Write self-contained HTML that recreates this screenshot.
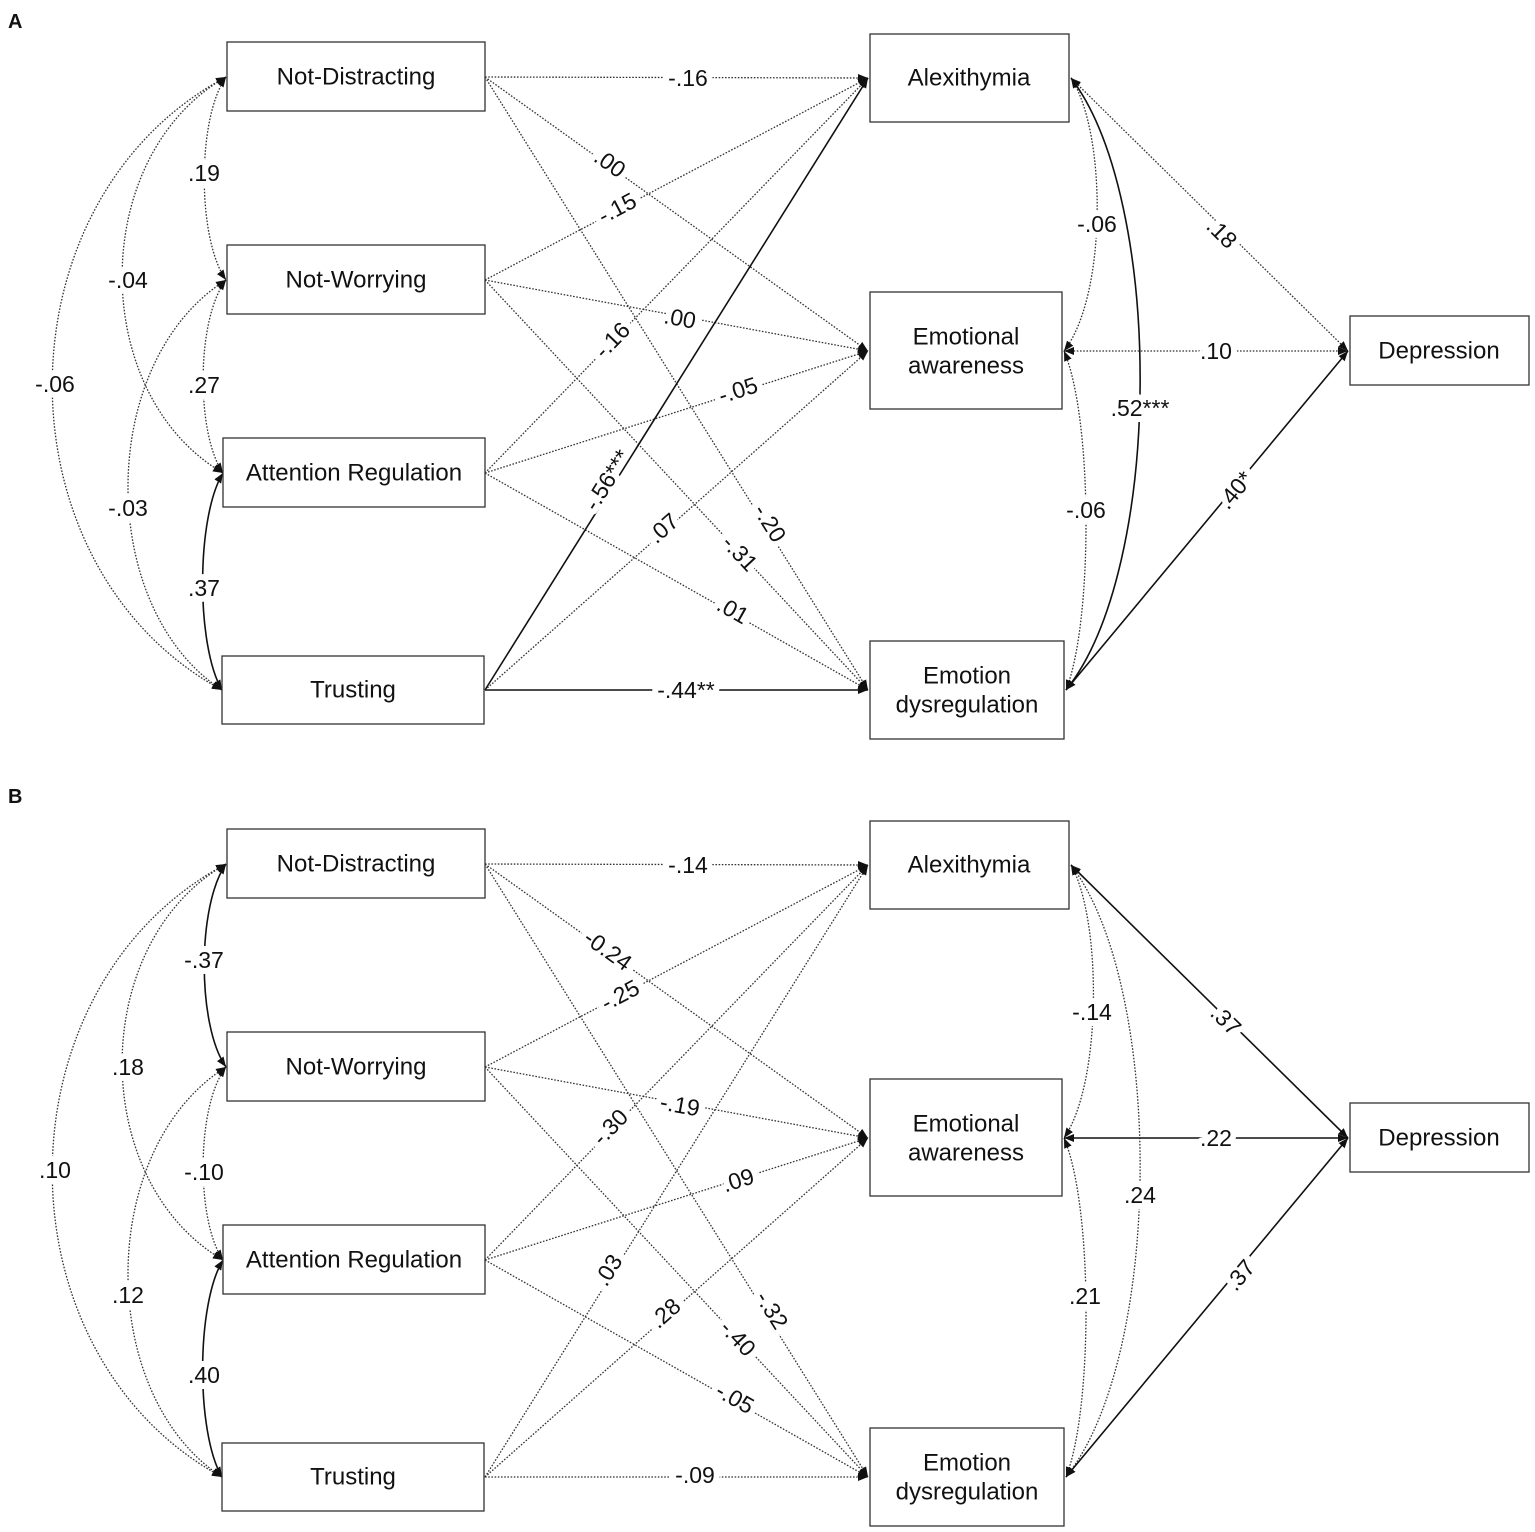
<!DOCTYPE html>
<html><head><meta charset="utf-8"><style>
html,body{margin:0;padding:0;background:#fff;}
svg{display:block;}
text{font-family:"Liberation Sans",Arial,sans-serif;fill:#111;}
.bx{fill:#fff;stroke:#333;stroke-width:1.3;}
.bt{font-size:24px;text-anchor:middle;dominant-baseline:central;}
.d{fill:none;stroke:#333;stroke-width:1.3;stroke-dasharray:1.6 1.6;}
.s{fill:none;stroke:#111;stroke-width:1.6;}
.l{font-size:23px;text-anchor:middle;dominant-baseline:central;paint-order:stroke;stroke:#fff;stroke-width:12px;stroke-linejoin:round;}
</style></head><body>
<svg width="1535" height="1532" viewBox="0 0 1535 1532" xmlns="http://www.w3.org/2000/svg">
<defs>
<marker id="ah" viewBox="0 0 10 10" refX="10" refY="5" markerWidth="10" markerHeight="10" orient="auto-start-reverse" markerUnits="userSpaceOnUse"><path d="M0,1L10,5L0,9z" fill="#111"/></marker>
</defs>
<text x="8" y="28" font-size="20" font-weight="bold">A</text>
<text x="8" y="803" font-size="20" font-weight="bold">B</text>

<!-- PANEL A -->
<g>
<path class="d" d="M485,77L868,78" marker-end="url(#ah)"/>
<path class="d" d="M485,77L868,351" marker-end="url(#ah)"/>
<path class="d" d="M485,77L868,690" marker-end="url(#ah)"/>
<path class="d" d="M485,280L868,78" marker-end="url(#ah)"/>
<path class="d" d="M485,280L868,351" marker-end="url(#ah)"/>
<path class="d" d="M485,280L868,690" marker-end="url(#ah)"/>
<path class="d" d="M485,473L868,78" marker-end="url(#ah)"/>
<path class="d" d="M485,473L868,351" marker-end="url(#ah)"/>
<path class="d" d="M485,473L868,690" marker-end="url(#ah)"/>
<path class="s" d="M485,690L868,78" marker-end="url(#ah)"/>
<path class="d" d="M485,690L868,351" marker-end="url(#ah)"/>
<path class="s" d="M485,690L868,690" marker-end="url(#ah)"/>
<path class="d" d="M226,77C197,118 197,239 226,280" marker-start="url(#ah)" marker-end="url(#ah)"/>
<path class="d" d="M226,77C88,156 88,394 223,473" marker-start="url(#ah)" marker-end="url(#ah)"/>
<path class="d" d="M226,77C-5,200 -5,567 222,690" marker-start="url(#ah)" marker-end="url(#ah)"/>
<path class="d" d="M226,280C196,319 196,434 223,473" marker-start="url(#ah)" marker-end="url(#ah)"/>
<path class="d" d="M226,280C96,362 96,608 222,690" marker-start="url(#ah)" marker-end="url(#ah)"/>
<path class="s" d="M223,473C196,517 196,646 222,690" marker-start="url(#ah)" marker-end="url(#ah)"/>
<path class="d" d="M1071,78C1107,133 1107,296 1064,351" marker-start="url(#ah)" marker-end="url(#ah)"/>
<path class="d" d="M1064,351C1093,419 1093,622 1066,690" marker-start="url(#ah)" marker-end="url(#ah)"/>
<path class="s" d="M1071,78C1164,200 1164,568 1066,690" marker-start="url(#ah)" marker-end="url(#ah)"/>
<path class="d" d="M1071,78L1348,351" marker-start="url(#ah)" marker-end="url(#ah)"/>
<path class="d" d="M1064,351L1348,351" marker-start="url(#ah)" marker-end="url(#ah)"/>
<path class="s" d="M1066,690L1348,351" marker-start="url(#ah)" marker-end="url(#ah)"/>
<rect class="bx" x="227" y="42" width="258" height="69"/><text class="bt" x="356" y="77">Not-Distracting</text>
<rect class="bx" x="227" y="245" width="258" height="69"/><text class="bt" x="356" y="280">Not-Worrying</text>
<rect class="bx" x="223" y="438" width="262" height="69"/><text class="bt" x="354" y="473">Attention Regulation</text>
<rect class="bx" x="222" y="656" width="262" height="68"/><text class="bt" x="353" y="690">Trusting</text>
<rect class="bx" x="870" y="34" width="199" height="88"/><text class="bt" x="969" y="78">Alexithymia</text>
<rect class="bx" x="870" y="292" width="192" height="117"/><text class="bt" x="966" y="337">Emotional</text><text class="bt" x="966" y="366">awareness</text>
<rect class="bx" x="870" y="641" width="194" height="98"/><text class="bt" x="967" y="676">Emotion</text><text class="bt" x="967" y="705">dysregulation</text>
<rect class="bx" x="1350" y="316" width="179" height="69"/><text class="bt" x="1439" y="351">Depression</text>
<text class="l" x="688" y="78">-.16</text>
<text class="l" transform="translate(610,163) rotate(35.6)">.00</text>
<text class="l" transform="translate(770,523) rotate(58)">-.20</text>
<text class="l" transform="translate(617,208) rotate(-27.8)">-.15</text>
<text class="l" transform="translate(680,318) rotate(10.5)">.00</text>
<text class="l" transform="translate(740,553) rotate(47)">-.31</text>
<text class="l" transform="translate(612,340) rotate(-45.9)">-.16</text>
<text class="l" transform="translate(738,390) rotate(-17.7)">-.05</text>
<text class="l" transform="translate(733,610) rotate(29.5)">.01</text>
<text class="l" transform="translate(607,480) rotate(-58)">-.56***</text>
<text class="l" transform="translate(663,528) rotate(-41.5)">.07</text>
<text class="l" x="686" y="690">-.44**</text>
<text class="l" x="204" y="173">.19</text>
<text class="l" x="128" y="280">-.04</text>
<text class="l" x="55" y="384">-.06</text>
<text class="l" x="204" y="385">.27</text>
<text class="l" x="128" y="508">-.03</text>
<text class="l" x="204" y="588">.37</text>
<text class="l" x="1097" y="224">-.06</text>
<text class="l" x="1086" y="510">-.06</text>
<text class="l" x="1140" y="408">.52***</text>
<text class="l" transform="translate(1222,233) rotate(44.6)">.18</text>
<text class="l" x="1216" y="351">.10</text>
<text class="l" transform="translate(1235,490) rotate(-50)">.40*</text>
</g>

<!-- PANEL B -->
<g transform="translate(0,787)">
<path class="d" d="M485,77L868,78" marker-end="url(#ah)"/>
<path class="d" d="M485,77L868,351" marker-end="url(#ah)"/>
<path class="d" d="M485,77L868,690" marker-end="url(#ah)"/>
<path class="d" d="M485,280L868,78" marker-end="url(#ah)"/>
<path class="d" d="M485,280L868,351" marker-end="url(#ah)"/>
<path class="d" d="M485,280L868,690" marker-end="url(#ah)"/>
<path class="d" d="M485,473L868,78" marker-end="url(#ah)"/>
<path class="d" d="M485,473L868,351" marker-end="url(#ah)"/>
<path class="d" d="M485,473L868,690" marker-end="url(#ah)"/>
<path class="d" d="M485,690L868,78" marker-end="url(#ah)"/>
<path class="d" d="M485,690L868,351" marker-end="url(#ah)"/>
<path class="d" d="M485,690L868,690" marker-end="url(#ah)"/>
<path class="s" d="M226,77C197,118 197,239 226,280" marker-start="url(#ah)" marker-end="url(#ah)"/>
<path class="d" d="M226,77C88,156 88,394 223,473" marker-start="url(#ah)" marker-end="url(#ah)"/>
<path class="d" d="M226,77C-5,200 -5,567 222,690" marker-start="url(#ah)" marker-end="url(#ah)"/>
<path class="d" d="M226,280C196,319 196,434 223,473" marker-start="url(#ah)" marker-end="url(#ah)"/>
<path class="d" d="M226,280C96,362 96,608 222,690" marker-start="url(#ah)" marker-end="url(#ah)"/>
<path class="s" d="M223,473C196,517 196,646 222,690" marker-start="url(#ah)" marker-end="url(#ah)"/>
<path class="d" d="M1071,78C1102,133 1102,296 1064,351" marker-start="url(#ah)" marker-end="url(#ah)"/>
<path class="d" d="M1064,351C1093,419 1093,622 1066,690" marker-start="url(#ah)" marker-end="url(#ah)"/>
<path class="d" d="M1071,78C1164,200 1164,568 1066,690" marker-start="url(#ah)" marker-end="url(#ah)"/>
<path class="s" d="M1071,78L1348,351" marker-start="url(#ah)" marker-end="url(#ah)"/>
<path class="s" d="M1064,351L1348,351" marker-start="url(#ah)" marker-end="url(#ah)"/>
<path class="s" d="M1066,690L1348,351" marker-start="url(#ah)" marker-end="url(#ah)"/>
<rect class="bx" x="227" y="42" width="258" height="69"/><text class="bt" x="356" y="77">Not-Distracting</text>
<rect class="bx" x="227" y="245" width="258" height="69"/><text class="bt" x="356" y="280">Not-Worrying</text>
<rect class="bx" x="223" y="438" width="262" height="69"/><text class="bt" x="354" y="473">Attention Regulation</text>
<rect class="bx" x="222" y="656" width="262" height="68"/><text class="bt" x="353" y="690">Trusting</text>
<rect class="bx" x="870" y="34" width="199" height="88"/><text class="bt" x="969" y="78">Alexithymia</text>
<rect class="bx" x="870" y="292" width="192" height="117"/><text class="bt" x="966" y="337">Emotional</text><text class="bt" x="966" y="366">awareness</text>
<rect class="bx" x="870" y="641" width="194" height="98"/><text class="bt" x="967" y="676">Emotion</text><text class="bt" x="967" y="705">dysregulation</text>
<rect class="bx" x="1350" y="316" width="179" height="69"/><text class="bt" x="1439" y="351">Depression</text>
<text class="l" x="688" y="78">-.14</text>
<text class="l" transform="translate(608,163) rotate(35.6)">-0.24</text>
<text class="l" transform="translate(772,523) rotate(58)">-.32</text>
<text class="l" transform="translate(620,208) rotate(-27.8)">-.25</text>
<text class="l" transform="translate(680,318) rotate(10.5)">-.19</text>
<text class="l" transform="translate(738,551) rotate(47)">-.40</text>
<text class="l" transform="translate(610,340) rotate(-45.9)">-.30</text>
<text class="l" transform="translate(738,393) rotate(-17.7)">.09</text>
<text class="l" transform="translate(735,611) rotate(29.5)">-.05</text>
<text class="l" transform="translate(608,483) rotate(-58)">.03</text>
<text class="l" transform="translate(665,526) rotate(-41.5)">.28</text>
<text class="l" x="695" y="688">-.09</text>
<text class="l" x="204" y="173">-.37</text>
<text class="l" x="128" y="280">.18</text>
<text class="l" x="55" y="383">.10</text>
<text class="l" x="204" y="385">-.10</text>
<text class="l" x="128" y="508">.12</text>
<text class="l" x="204" y="588">.40</text>
<text class="l" x="1092" y="225">-.14</text>
<text class="l" x="1085" y="509">.21</text>
<text class="l" x="1140" y="408">.24</text>
<text class="l" transform="translate(1226,233) rotate(44.6)">.37</text>
<text class="l" x="1216" y="351">.22</text>
<text class="l" transform="translate(1240,488) rotate(-50)">.37</text>
</g>
</svg>
</body></html>
